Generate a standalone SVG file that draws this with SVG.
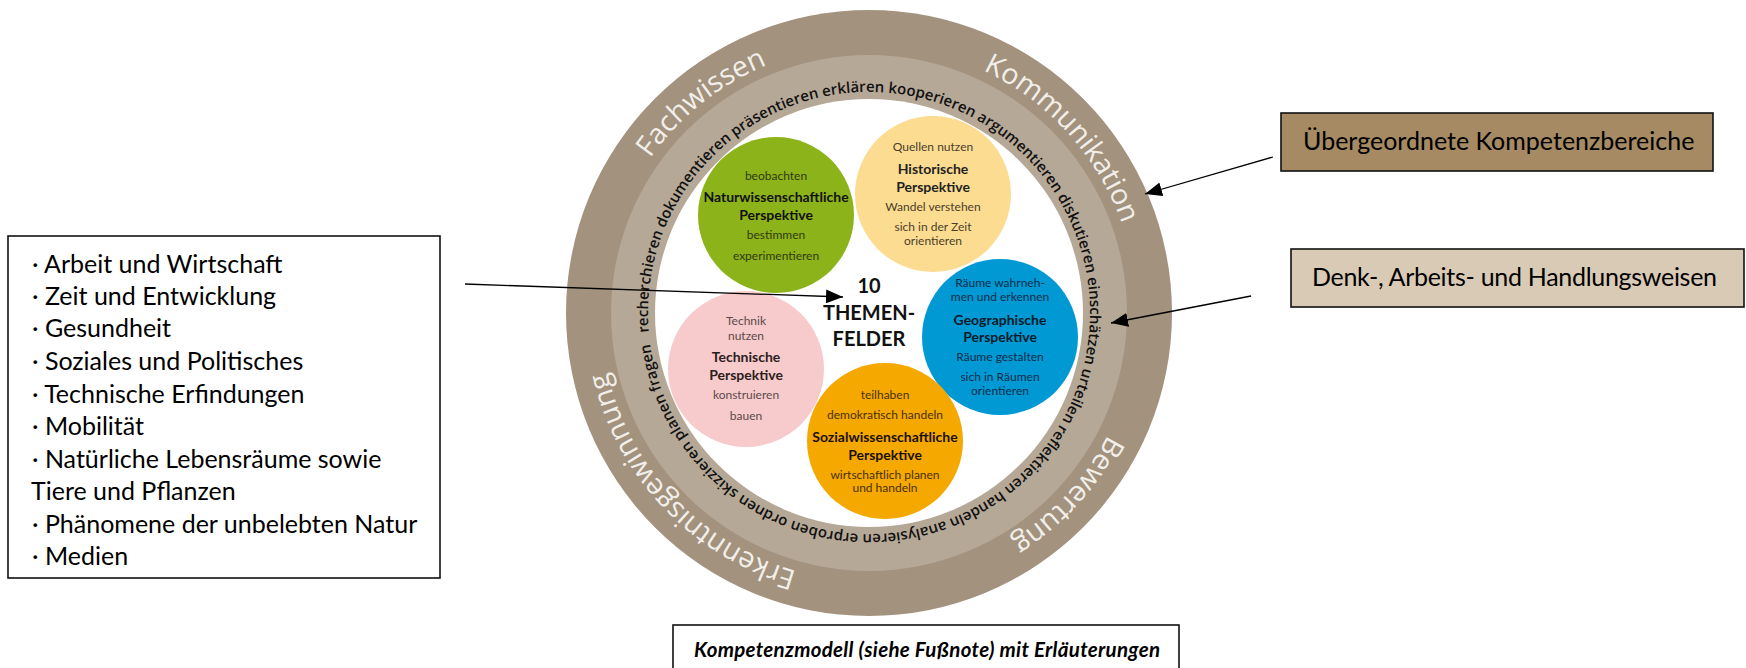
<svg xmlns="http://www.w3.org/2000/svg" width="1746" height="668" viewBox="0 0 1746 668">
<style>
.ring-label{font-family:"Open Sans",sans-serif;font-size:28.5px;font-weight:500;fill:#F2EFEA;}
.ring-verbs{font-family:"Open Sans",sans-serif;font-size:15px;font-weight:600;fill:#111;}
.ct{font-family:Lato,sans-serif;font-size:12px;text-anchor:middle;}
.cb{font-family:Lato,sans-serif;font-size:14px;font-weight:700;text-anchor:middle;}
.center{font-family:Lato,sans-serif;font-size:20px;font-weight:700;text-anchor:middle;fill:#111;}
.cal{font-family:Lato,sans-serif;font-size:25px;fill:#000;}
.box{stroke:#111;stroke-width:1.6;}
.conn{stroke:#000;stroke-width:1.3;fill:none;marker-end:url(#ah);}
</style>
<defs>
<path id="outerPath" d="M869,45 A268,268 0 1 1 869,581 A268,268 0 1 1 869,45"/>
<path id="innerPath" d="M648.8,332.3 A221,221 0 1 1 1089.2,293.7 A221,221 0 1 1 648.8,332.3"/>
<marker id="ah" markerUnits="userSpaceOnUse" markerWidth="17" markerHeight="14" viewBox="0 0 17 14" refX="17" refY="7" orient="auto">
<path d="M0,0 L17,7 L0,14 z" fill="#000"/>
</marker>
</defs>
<rect width="1746" height="668" fill="#fff"/>

<g id="ring">
<circle cx="869" cy="313" r="303" fill="#A3927E"/>
<circle cx="869" cy="313" r="258" fill="#B6A897"/>
<circle cx="869" cy="313" r="214" fill="#fff"/>
<text class="ring-label"><textPath href="#outerPath" startOffset="89.3%" text-anchor="middle">Fachwissen</textPath></text>
<text class="ring-label"><textPath href="#outerPath" startOffset="13.3%" text-anchor="middle">Kommunikation</textPath></text>
<text class="ring-label"><textPath href="#outerPath" startOffset="36.8%" text-anchor="middle">Bewertung</textPath></text>
<text class="ring-label"><textPath href="#outerPath" startOffset="62.9%" text-anchor="middle">Erkenntnisgewinnung</textPath></text>
<text class="ring-verbs"><textPath href="#innerPath" startOffset="0" textLength="1377">recherchieren dokumentieren präsentieren erklären kooperieren argumentieren diskutieren einschätzen urteilen reflektieren handeln analysieren erproben ordnen skizzieren planen fragen</textPath></text>
</g>

<g id="natur">
<circle cx="776" cy="215" r="78" fill="#8DB31A"/>
<text class="ct" x="776" y="180" fill="#2f3a10">beobachten</text>
<text class="cb" x="776" y="202" fill="#111">Naturwissenschaftliche</text>
<text class="cb" x="776" y="220" fill="#111">Perspektive</text>
<text class="ct" x="776" y="239" fill="#2f3a10">bestimmen</text>
<text class="ct" x="776" y="260" fill="#2f3a10">experimentieren</text>
</g>

<g id="historisch">
<circle cx="933" cy="194" r="78" fill="#FCDC91"/>
<text class="ct" x="933" y="151" fill="#4a3f2c">Quellen nutzen</text>
<text class="cb" x="933" y="174" fill="#222">Historische</text>
<text class="cb" x="933" y="192" fill="#222">Perspektive</text>
<text class="ct" x="933" y="211" fill="#4a3f2c">Wandel verstehen</text>
<text class="ct" x="933" y="231" fill="#4a3f2c">sich in der Zeit</text>
<text class="ct" x="933" y="245" fill="#4a3f2c">orientieren</text>
</g>

<g id="geographisch">
<circle cx="1000" cy="337" r="78" fill="#0099D4"/>
<text class="ct" x="1000" y="287" fill="#0c2c4a">Räume wahrneh-</text>
<text class="ct" x="1000" y="301" fill="#0c2c4a">men und erkennen</text>
<text class="cb" x="1000" y="325" fill="#0a1a2a">Geographische</text>
<text class="cb" x="1000" y="342" fill="#0a1a2a">Perspektive</text>
<text class="ct" x="1000" y="361" fill="#0c2c4a">Räume gestalten</text>
<text class="ct" x="1000" y="381" fill="#0c2c4a">sich in Räumen</text>
<text class="ct" x="1000" y="395" fill="#0c2c4a">orientieren</text>
</g>

<g id="technisch">
<circle cx="746" cy="369" r="78" fill="#F7CACB"/>
<text class="ct" x="746" y="325" fill="#5b4b4b">Technik</text>
<text class="ct" x="746" y="340" fill="#5b4b4b">nutzen</text>
<text class="cb" x="746" y="362" fill="#2a2020">Technische</text>
<text class="cb" x="746" y="380" fill="#2a2020">Perspektive</text>
<text class="ct" x="746" y="399" fill="#5b4b4b">konstruieren</text>
<text class="ct" x="746" y="420" fill="#5b4b4b">bauen</text>
</g>

<g id="sozial">
<circle cx="885" cy="441" r="78" fill="#F5A800"/>
<text class="ct" x="885" y="399" fill="#4a3000">teilhaben</text>
<text class="ct" x="885" y="419" fill="#4a3000">demokratisch handeln</text>
<text class="cb" x="885" y="442" fill="#1a1000">Sozialwissenschaftliche</text>
<text class="cb" x="885" y="460" fill="#1a1000">Perspektive</text>
<text class="ct" x="885" y="479" fill="#4a3000">wirtschaftlich planen</text>
<text class="ct" x="885" y="492" fill="#4a3000">und handeln</text>
</g>

<g id="themenfelder">
<text class="center" x="869" y="293">10</text>
<text class="center" x="869" y="320">THEMEN-</text>
<text class="center" x="869" y="346">FELDER</text>
</g>

<g id="liste">
<rect class="box" x="8" y="236" width="432" height="342" fill="#fff"/>
<text class="cal" x="32" y="273">· Arbeit und Wirtschaft</text>
<text class="cal" x="32" y="305">· Zeit und Entwicklung</text>
<text class="cal" x="32" y="337">· Gesundheit</text>
<text class="cal" x="32" y="370">· Soziales und Politisches</text>
<text class="cal" x="32" y="403">· Technische Erfindungen</text>
<text class="cal" x="32" y="435">· Mobilität</text>
<text class="cal" x="32" y="468">· Natürliche Lebensräume sowie</text>
<text class="cal" x="31" y="500">Tiere und Pflanzen</text>
<text class="cal" x="32" y="533">· Phänomene der unbelebten Natur</text>
<text class="cal" x="32" y="565">· Medien</text>
</g>

<g id="kompetenzbereiche">
<rect class="box" x="1281" y="113" width="432" height="58" fill="#A68A64"/>
<text class="cal" x="1303" y="150">Übergeordnete Kompetenzbereiche</text>
</g>

<g id="denkweisen">
<rect class="box" x="1291" y="249" width="453" height="58" fill="#D9CAB6"/>
<text class="cal" x="1312" y="286" textLength="405">Denk-, Arbeits- und Handlungsweisen</text>
</g>

<g id="caption">
<rect class="box" x="673" y="625" width="506" height="60" fill="#fff"/>
<text x="694" y="657" font-family="Lato, sans-serif" font-size="20.5" font-weight="700" font-style="italic" fill="#000" textLength="466">Kompetenzmodell (siehe Fußnote) mit Erläuterungen</text>
</g>

<g id="connectors">
<line class="conn" x1="465" y1="284" x2="843" y2="297"/>
<line class="conn" x1="1273" y1="157" x2="1145" y2="194"/>
<line class="conn" x1="1251" y1="296" x2="1111" y2="323"/>
</g>
</svg>
